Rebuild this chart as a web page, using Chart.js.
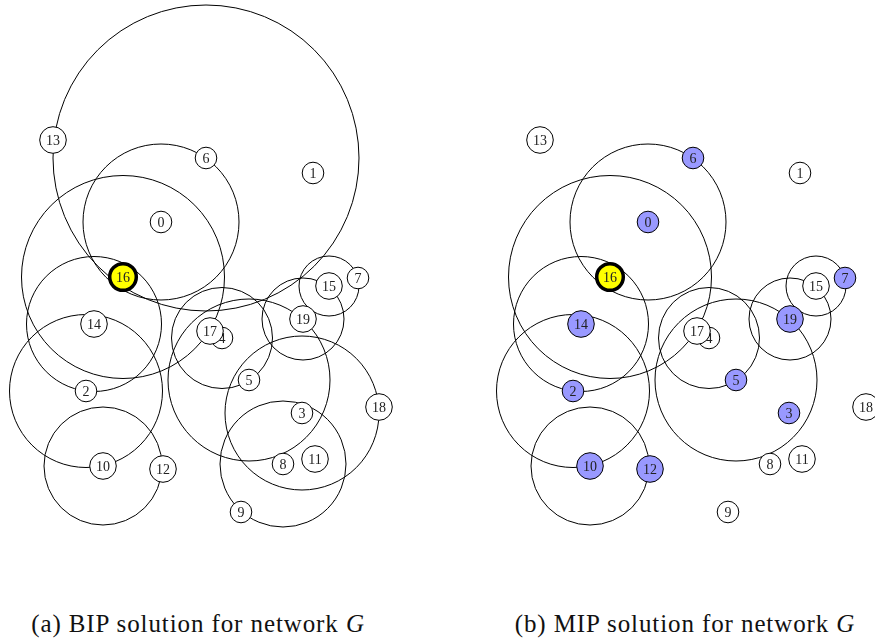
<!DOCTYPE html>
<html>
<head>
<meta charset="utf-8">
<script src="https://cdn.jsdelivr.net/npm/chart.js@4.4.1/dist/chart.umd.min.js"></script>
<style>
  body { margin: 0; background: #fff; width: 875px; height: 640px; overflow: hidden; position: relative; }
  canvas { position: absolute; top: 0; }
  #chartA { left: 0; }
  #chartB { left: 487px; }
  .caption {
    position: absolute; top: 611px;
    font-family: "Liberation Serif", serif; font-size: 25px; line-height: 25px;
    letter-spacing: 0.9px; white-space: nowrap; transform: translateX(-50%); color: #111;
  }
</style>
</head>
<body>
<canvas id="chartA" width="437" height="560"></canvas>
<canvas id="chartB" width="388" height="560"></canvas>
<div class="caption" style="left:198px">(a) BIP solution for network <i>G</i></div>
<div class="caption" style="left:685px">(b) MIP solution for network <i>G</i></div>
<script>
// node positions (y grows downwards)
const nodeLabels = ['0','1','2','3','4','5','6','7','8','9','10','11','12','13','14','15','16','17','18','19'];
const nodeX = [161, 313, 86, 302, 222, 249, 206, 358, 283, 241, 103, 315, 163, 53, 94, 329, 123, 210, 379, 303];
const nodeY = [222, 173, 391, 413, 338, 380, 158, 278, 464, 512, 466, 459, 469, 140, 324, 286, 277, 331, 407, 319];

// transmission range of each node (0 = no circle)
const bipRange = [78, 0, 76.5, 77, 50.5, 81, 153, 0, 63, 0, 59, 0, 0, 0, 67.5, 30, 101.5, 0, 0, 41];
const mipRange = [78, 0, 76.5, 0, 50.5, 81, 0, 0, 0, 0, 59, 0, 0, 0, 67.5, 30, 101.5, 0, 0, 41];

// nodes marked in the MIP solution
const mipMarked = [1, 0, 1, 1, 0, 1, 1, 1, 0, 0, 1, 0, 1, 0, 1, 0, 0, 0, 0, 1];
const sourceNode = 16;

// draws the node number right after its node, so later nodes cover it
const nodeLabelPlugin = {
  id: 'nodeLabels',
  afterDatasetDraw(chart, args) {
    const ds = chart.data.datasets[args.index];
    if (ds.nodeIndex === undefined) return;
    const pt = args.meta.data[0];
    const c = chart.ctx;
    c.save();
    c.font = '14px "Liberation Serif"';
    c.textAlign = 'center';
    c.textBaseline = 'middle';
    c.fillStyle = '#222';
    c.fillText(nodeLabels[ds.nodeIndex], pt.x, pt.y + 1);
    c.restore();
  }
};

function buildChart(id, width, ranges, fillFor) {
  const circles = [];
  ranges.forEach((r, i) => {
    if (r > 0) circles.push({ x: nodeX[i], y: nodeY[i], r: r });
  });

  const datasets = [{
    label: 'range',
    data: circles,
    order: 1000,
    clip: false,
    pointRadius: ctx => {
      const xs = ctx.chart.scales.x;
      const p = ctx.raw;
      return Math.abs(xs.getPixelForValue(p.x + p.r) - xs.getPixelForValue(p.x));
    },
    pointBackgroundColor: 'rgba(0,0,0,0)',
    pointBorderColor: '#000',
    pointBorderWidth: 1
  }];

  nodeLabels.forEach((lab, i) => {
    const isSource = i === sourceNode;
    datasets.push({
      label: 'node ' + lab,
      nodeIndex: i,
      data: [{ x: nodeX[i], y: nodeY[i] }],
      order: 100 - i,
      clip: false,
      pointRadius: lab.length > 1 ? 13.3 : 10.8,
      pointBackgroundColor: fillFor(i),
      pointBorderColor: '#000',
      pointBorderWidth: isSource ? 3.5 : 1
    });
  });

  return new Chart(document.getElementById(id), {
    type: 'scatter',
    data: { datasets },
    options: {
      responsive: false,
      animation: false,
      events: [],
      layout: { padding: 0, autoPadding: false },
      plugins: { legend: { display: false }, tooltip: { enabled: false } },
      scales: {
        x: { type: 'linear', min: 0, max: width, display: false },
        y: { type: 'linear', min: 0, max: 560, reverse: true, display: false }
      }
    },
    plugins: [nodeLabelPlugin]
  });
}

buildChart('chartA', 437, bipRange, i => i === sourceNode ? '#ffff00' : '#ffffff');
buildChart('chartB', 388, mipRange, i => i === sourceNode ? '#ffff00' : (mipMarked[i] ? '#9999ff' : '#ffffff'));
</script>
</body>
</html>
